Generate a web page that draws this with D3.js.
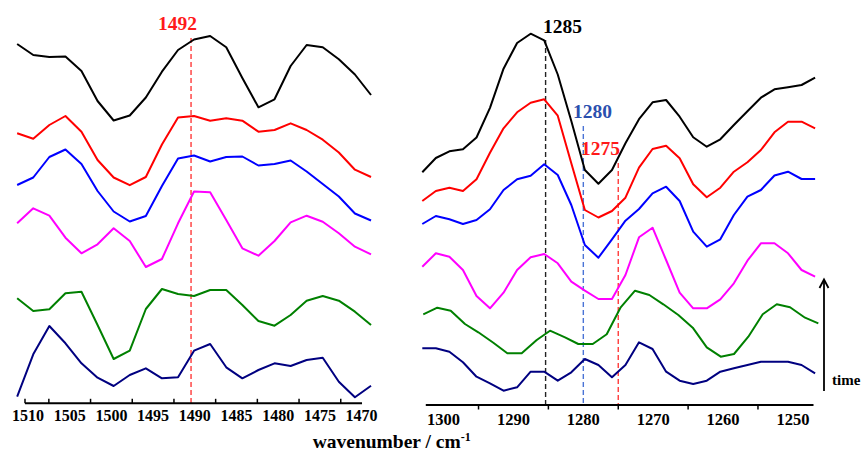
<!DOCTYPE html>
<html>
<head>
<meta charset="utf-8">
<script src="https://cdn.jsdelivr.net/npm/d3@7/dist/d3.min.js"></script>
<style>
  html, body { margin: 0; padding: 0; background: #fff; }
  svg { display: block; }
</style>
</head>
<body>
<script>
// ---------------- DATA ----------------
// Left panel wavenumbers (cm-1)
const leftWn = [1511.30, 1509.37, 1507.44, 1505.51, 1503.59, 1501.66, 1499.73, 1497.80, 1495.87, 1493.94,
  1492.01, 1490.09, 1488.16, 1486.23, 1484.30, 1482.37, 1480.44, 1478.51, 1476.59, 1474.66, 1472.73, 1470.80, 1468.87];
// Right panel wavenumbers (cm-1)
const rightWn = [1303.05, 1301.11, 1299.17, 1297.23, 1295.29, 1293.36, 1291.42, 1289.48, 1287.54, 1285.60,
  1283.66, 1281.72, 1279.78, 1277.84, 1275.90, 1273.97, 1272.03, 1270.09, 1268.15, 1266.21, 1264.27, 1262.33,
  1260.39, 1258.45, 1256.51, 1254.58, 1252.64, 1250.70, 1248.76, 1246.82];
const rightWnGreen = [1302.91, 1300.90, 1298.98, 1296.94, 1295.03, 1292.88, 1290.88, 1288.82, 1286.67, 1284.77,
  1282.62, 1280.72, 1278.65, 1276.65, 1274.65, 1272.60, 1270.55, 1268.55, 1266.40, 1264.34, 1262.33, 1260.33,
  1258.43, 1256.38, 1254.32, 1252.31, 1250.41, 1248.26, 1246.36];

// Offset spectra (arbitrary units), from top (latest) to bottom (earliest)
const leftBlack   = [361, 350, 348, 348.5, 334, 304, 284.5, 289.5, 307.5, 333.3, 355, 365.5, 369, 357.7, 327, 297.7, 305.7, 339, 360, 357.7, 345.7, 330.5, 310];
const leftRed     = [271.7, 266.3, 280, 289, 273.3, 245, 227.5, 219.8, 228, 260.5, 287.5, 289, 284.3, 286.7, 284.3, 273.3, 275, 281.7, 275, 265.3, 252.5, 235.3, 228];
const leftBlue    = [220, 227.5, 248, 255.5, 241, 214, 193.5, 183.5, 189, 219, 246.5, 249.5, 243.5, 248, 248.5, 239.5, 241, 244.5, 233.5, 221, 208.5, 191.5, 184.5];
const leftMagenta = [181.7, 196.7, 189.3, 167.3, 151.7, 160.7, 176.7, 164, 138, 146, 181.7, 213.5, 212.7, 185, 156.7, 149.3, 164, 182.7, 189.3, 183.3, 171.7, 158.3, 150.7];
const leftGreen   = [106.7, 94, 95.7, 111.7, 113.3, 80, 46, 54.3, 96, 116, 111, 109, 115, 115, 100, 84, 79.3, 90, 104.3, 109, 104.3, 93.3, 80];
const leftNavy    = [8.3, 50.7, 79, 61.7, 41.7, 27.3, 19, 30, 36.7, 26.7, 27.7, 54.3, 61, 37.7, 26.7, 35, 41.7, 39, 45, 47.3, 23.3, 7.7, 19.3];

const rightBlack   = [232.7, 247, 253.7, 255.8, 267.5, 297.2, 336.3, 362, 371.3, 364.7, 330.5, 284, 235, 221.3, 235, 261.7, 285.8, 302.7, 305, 288.3, 267.7, 258.3, 265.7, 280, 293.8, 307.3, 315.7, 317.7, 320, 327.3];
const rightRed     = [204, 214, 217.3, 214, 225.7, 252.3, 276.7, 292.7, 302.3, 305.7, 289.3, 241.7, 195, 187.5, 194, 207.3, 237.3, 256, 259.3, 246.7, 220.7, 207.7, 217.3, 233.3, 242.7, 255, 272.7, 283.3, 283.3, 276.7];
const rightBlue    = [181, 189, 185.7, 181, 185, 195.7, 215, 225.7, 229.3, 240.7, 230, 200, 160, 147.3, 165.7, 184.3, 196, 211.7, 218.3, 204, 173.3, 158.3, 165.7, 190, 208.3, 215, 229.5, 233.3, 226, 226];
const rightMagenta = [138.3, 151.7, 148.3, 135, 109, 96.7, 112.3, 135, 147.7, 151, 141.7, 123.3, 114.3, 106, 106, 130, 167.7, 177.3, 145, 112.3, 96.7, 96.7, 105.7, 121.7, 144.3, 161.7, 161.7, 151.7, 135, 128.3];
const rightGreen   = [90.7, 97.3, 94.3, 81, 72.7, 62.3, 51.7, 51.7, 65, 74.3, 67.7, 61, 61, 70.7, 97.7, 114.3, 110, 100.7, 90, 77.3, 57.7, 48.3, 51, 68.3, 90.7, 100.7, 97.7, 87.3, 81.7];
const rightNavy    = [56.7, 56.7, 53.3, 42.7, 28.3, 21.7, 14.3, 17.7, 33.3, 33.3, 24.3, 32.7, 46, 40, 27.7, 40, 62.7, 56, 33.3, 24.3, 21, 24.3, 33.3, 36.7, 40, 43.3, 43.3, 43.3, 40, 31.7];

// Tick labels
const leftTickLabels  = [1510, 1505, 1500, 1495, 1490, 1485, 1480, 1475, 1470];
const leftTickMarks   = [1507.5, 1502.5, 1497.5, 1492.5, 1487.5, 1482.5, 1477.5, 1472.5];
const rightTickLabels = [1300, 1290, 1280, 1270, 1260, 1250];
const rightTickMarks  = [1295, 1285, 1275, 1265, 1255];

// Marker lines: position (cm-1), top of line (a.u.), label
const leftMarkers  = [{ wn: 1490.45, top: 367, label: "1492" }];
const rightMarkers = [
  { wn: 1285.4, top: 365, label: "1285" },
  { wn: 1280.0, top: 279, label: "1280" },
  { wn: 1275.0, top: 242, label: "1275" }
];

// ---------------- STYLE / LAYOUT ----------------
const W = 862, H = 452;
const FONT = "'Liberation Serif', 'Times New Roman', Times, serif";
const seriesColors = ["#000000", "#ff0000", "#0000ff", "#ff00ff", "#008000", "#000080"];
const leftMarkerStyle  = [{ color: "#ff3b3b", text: "#ff1a1a", dx: -13.5, dy: -8 }];
const rightMarkerStyle = [
  { color: "#222222", text: "#000000", dx: 17, dy: -7.5 },
  { color: "#4a74d6", text: "#2b4fae", dx: 9.3, dy: -8 },
  { color: "#ff3b3b", text: "#ff1a1a", dx: -17.8, dy: -8 }
];

const svg = d3.select("body").append("svg").attr("width", W).attr("height", H);
svg.append("rect").attr("width", W).attr("height", H).attr("fill", "#fff");

const y = d3.scaleLinear().domain([0, 400]).range([405, 5]);

const xL = d3.scaleLinear().domain([1510, 1470]).range([28, 361.6]);
const xR = d3.scaleLinear().domain([1300, 1250]).range([443.6, 792.9]);

function txt(sel) {
  return sel.attr("font-family", FONT).attr("font-weight", "bold");
}

function drawPanel(x, wn, seriesList, markers, mStyles, axisY, axisDomain, tickMarks, tickDir, tickLabels, labelBaseline, labelSize) {
  const g = svg.append("g");
  markers.forEach((m, i) => {
    const st = mStyles[i];
    g.append("line")
      .attr("x1", x(m.wn)).attr("x2", x(m.wn))
      .attr("y1", y(m.top)).attr("y2", axisY)
      .attr("stroke", st.color).attr("stroke-width", 1.4)
      .attr("stroke-dasharray", "5,3");
    txt(g.append("text"))
      .attr("x", x(m.wn) + st.dx).attr("y", y(m.top) + st.dy)
      .attr("text-anchor", "middle").attr("font-size", 19.5)
      .attr("fill", st.text).text(m.label);
  });
  seriesList.forEach((s, i) => {
    const xs = s.wn || wn;
    const line = d3.line().x((d, j) => x(xs[j])).y(d => y(d));
    g.append("path").datum(s.values)
      .attr("d", line).attr("fill", "none")
      .attr("stroke", seriesColors[i]).attr("stroke-width", 2)
      .attr("stroke-linejoin", "round");
  });
  g.append("line")
    .attr("x1", x(axisDomain[0])).attr("x2", x(axisDomain[1]))
    .attr("y1", axisY).attr("y2", axisY)
    .attr("stroke", "#000").attr("stroke-width", 2);
  tickMarks.forEach(t => {
    g.append("line").attr("x1", x(t)).attr("x2", x(t))
      .attr("y1", axisY).attr("y2", axisY + tickDir * 4.5)
      .attr("stroke", "#000").attr("stroke-width", 1.5);
  });
  tickLabels.forEach(t => {
    txt(g.append("text")).attr("x", x(t)).attr("y", labelBaseline)
      .attr("text-anchor", "middle").attr("font-size", labelSize)
      .attr("fill", "#000").text(t);
  });
  return g;
}

drawPanel(xL, leftWn,
  [{ values: leftBlack }, { values: leftRed }, { values: leftBlue }, { values: leftMagenta }, { values: leftGreen }, { values: leftNavy }],
  leftMarkers, leftMarkerStyle, 403.3, [1510.36, 1469.95], [1510.36].concat(leftTickMarks), -1, leftTickLabels, 421, 16);

drawPanel(xR, rightWn,
  [{ values: rightBlack }, { values: rightRed }, { values: rightBlue }, { values: rightMagenta }, { values: rightGreen, wn: rightWnGreen }, { values: rightNavy }],
  rightMarkers, rightMarkerStyle, 405, [1302.55, 1247.05], rightTickMarks, 1, rightTickLabels, 424.5, 16.5);

// x-axis title
const title = txt(svg.append("text")).attr("x", 391.7).attr("y", 447.5)
  .attr("text-anchor", "middle").attr("font-size", 19.5).attr("fill", "#000");
title.append("tspan").text("wavenumber / cm");
title.append("tspan").attr("dy", -7).attr("font-size", 12).text("-1");

// time arrow
svg.append("line").attr("x1", 824).attr("x2", 824).attr("y1", 391).attr("y2", 280)
  .attr("stroke", "#000").attr("stroke-width", 1.8);
svg.append("path").attr("d", "M819.5,288 L824,279.5 L828.5,288")
  .attr("fill", "none").attr("stroke", "#000").attr("stroke-width", 1.8);
txt(svg.append("text")).attr("x", 832).attr("y", 385).attr("font-size", 15).attr("fill", "#000").text("time");
</script>
</body>
</html>
